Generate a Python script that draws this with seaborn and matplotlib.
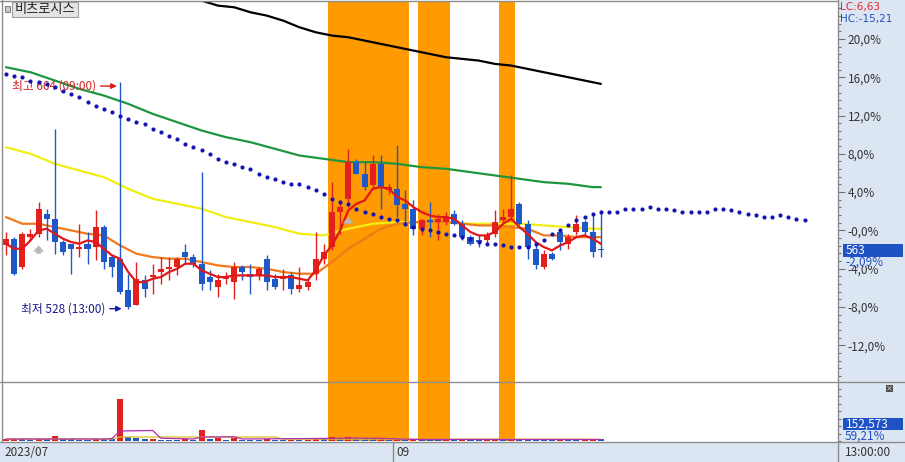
import numpy as np
import pandas as pd
import seaborn as sns
import matplotlib.pyplot as plt
from matplotlib.patches import Rectangle
from matplotlib.lines import Line2D
from matplotlib.ticker import MultipleLocator

# 기준가 (previous close) - the right axis shows % change from it
BASE_PRICE = 575

# daily candles (price, KRW)
opens = [566, 570, 553, 571, 573, 585, 582, 568, 567, 564, 567, 565, 577, 559, 558, 539, 530, 545, 547, 550,
         552, 553, 562, 559, 555, 547, 541, 546, 544, 553, 549, 548, 558, 546, 546, 548, 540, 541, 549, 558,
         565, 586, 594, 616, 609, 602, 615, 599, 600, 591, 588, 576, 581, 580, 580, 585, 579, 571, 569, 569,
         573, 581, 583, 591, 579, 564, 553, 561, 574, 567, 574, 580, 574, 563]
highs = [574, 571, 574, 576, 592, 588, 636, 569, 567, 579, 574, 587, 578, 561, 664, 549, 556, 548, 555, 559,
         559, 559, 567, 561, 610, 551, 549, 550, 556, 554, 555, 553, 560, 549, 552, 550, 553, 546, 574, 567,
         604, 593, 624, 618, 616, 620, 620, 603, 626, 599, 593, 582, 592, 585, 586, 587, 581, 572, 572, 574,
         587, 588, 608, 592, 581, 567, 563, 562, 576, 573, 584, 581, 585, 587]
lows = [560, 548, 552, 569, 571, 569, 561, 560, 549, 559, 555, 557, 552, 547, 537, 528, 530, 535, 537, 543,
        545, 548, 555, 553, 539, 539, 535, 543, 534, 545, 537, 545, 539, 540, 539, 537, 538, 539, 545, 555,
        563, 573, 589, 609, 599, 600, 588, 597, 583, 578, 572, 572, 571, 569, 578, 578, 569, 566, 565, 566,
        571, 579, 581, 578, 558, 552, 552, 557, 563, 564, 572, 572, 559, 559]
closes = [570, 549, 573, 573, 588, 582, 568, 562, 564, 565, 564, 577, 556, 553, 538, 529, 546, 540, 548, 552,
          553, 558, 559, 555, 543, 544, 545, 547, 553, 550, 547, 552, 544, 541, 547, 540, 542, 544, 558, 562,
          586, 589, 616, 609, 601, 615, 601, 601, 590, 588, 576, 581, 580, 582, 583, 579, 571, 567, 568, 572,
          580, 583, 588, 579, 565, 554, 561, 558, 568, 571, 579, 574, 562, 563]
# volume, thousands of shares
volumes = [200, 250, 220, 150, 250, 180, 500, 200, 180, 150, 150, 250, 250, 200, 4200, 450, 300, 200, 250, 150,
           150, 150, 180, 150, 1100, 250, 300, 150, 300, 150, 150, 120, 200, 150, 120, 150, 120, 150, 250, 200,
           450, 250, 400, 250, 200, 180, 200, 120, 200, 150, 180, 120, 120, 100, 120, 120, 150, 100, 80, 100,
           150, 120, 200, 180, 150, 150, 120, 100, 150, 120, 120, 150, 200, 153]

# moving averages (candle index, price)
ma5 = [567, 564, 564, 569, 575, 576, 573, 570, 568, 567, 569, 568, 564, 560, 558, 550, 544, 544, 546, 547,
       550, 552, 555, 555, 551, 549, 547, 547, 548, 548, 548, 548, 548, 547, 547, 547, 546, 545, 551, 560,
       566, 575, 587, 591, 593, 600, 601, 600, 595, 593, 589, 586, 584, 583, 583, 582, 578, 574, 572, 572,
       574, 579, 582, 577, 573, 568, 565, 563, 566, 568, 571, 572, 570, 567]
ma20_idx = [0, 2, 4, 6, 8, 10, 12, 14, 16, 18, 20, 22, 24, 26, 28, 30, 32, 34, 36, 38, 40, 42, 44, 46, 48,
            50, 52, 54, 56, 58, 60, 62, 64, 66, 68, 70, 72, 73]
ma20 = [583, 579, 579, 577, 575, 573, 572, 566, 561, 559, 558, 558, 556, 554, 553, 553, 552, 550, 549, 549,
        556, 564, 570, 576, 579, 580, 580, 580, 579, 578, 578, 577, 576, 572, 572, 571, 571, 571]
ma60_idx = [0, 3, 6, 9, 12, 15, 18, 21, 24, 27, 30, 33, 36, 39, 42, 45, 48, 51, 54, 57, 60, 63, 66, 69, 72, 73]
ma60 = [625, 621, 615, 611, 607, 600, 594, 591, 588, 583, 580, 577, 573, 572, 576, 579, 580, 580, 580, 579,
        579, 579, 578, 577, 576, 576]
ma120_idx = ma60_idx
ma120 = [673, 670, 665, 660, 656, 651, 645, 640, 635, 631, 628, 624, 620, 618, 616, 616, 615, 613, 612, 610,
         608, 606, 604, 603, 601, 601]
ma240_idx = [23, 24, 26, 28, 30, 32, 34, 36, 38, 40, 42, 44, 46, 48, 50, 52, 54, 56, 58, 60, 62, 64, 66, 68,
             70, 72, 73]
ma240 = [715, 713, 710, 709, 706, 704, 701, 697, 694, 692, 691, 689, 687, 685, 683, 681, 679, 678, 677, 675,
         674, 672, 670, 668, 666, 664, 663]
# leading span, runs 25 candles past the last one
span = [669, 668, 667, 665, 664, 663, 661, 659, 657, 655, 652, 650, 648, 646, 644, 642, 640, 639, 636, 634,
        632, 630, 627, 625, 623, 621, 618, 616, 615, 613, 612, 609, 607, 606, 604, 603, 603, 601, 599, 597,
        594, 592, 591, 588, 586, 585, 583, 582, 581, 579, 577, 576, 575, 574, 573, 572, 571, 570, 568, 567,
        567, 566, 565, 565, 565, 567, 569, 573, 575, 578, 581, 583, 585, 586, 586, 586, 588, 588, 588, 589,
        588, 588, 587, 586, 586, 586, 586, 588, 588, 587, 586, 585, 584, 583, 583, 584, 583, 582, 581]
# volume averages
vma5_idx = [0, 12, 13, 14, 18, 19, 23, 24, 28, 29, 40, 42, 46, 50, 73]
vma5 = [200, 200, 250, 1000, 1050, 280, 200, 400, 420, 200, 260, 300, 260, 160, 150]
vma20_idx = [0, 13, 14, 33, 34, 73]
vma20 = [200, 200, 400, 400, 190, 170]

# highlighted candle ranges
bands = [(40, 49), (51, 54), (61, 62)]
# buy-signal arrows (candle, from, to)
signals = [(4, 561, 566), (42, 579, 583)]

pct_ticks = [20, 16, 12, 8, 4, 0, -4, -8, -12]
pct_labels = ['20,0%', '16,0%', '12,0%', '8,0%', '4,0%', '-0,0%', '-4,0%', '-8,0%', '-12,0%']

RED = '#e3201b'
BLUE = '#1f58c8'
BAND = '#ff9a00'
PANEL = '#dce6f2'
EDGE = '#8c8c8c'


def pct(p):
    return (np.asarray(p, dtype=float) / BASE_PRICE - 1) * 100


sns.set_style('white')
plt.rcParams['font.family'] = ['Noto Sans CJK KR', 'DejaVu Sans']

W, H = 905, 462
fig = plt.figure(figsize=(W / 100, H / 100), dpi=100)


def frect(x0, y0, x1, y1):
    return [x0 / W, 1 - y1 / H, (x1 - x0) / W, (y1 - y0) / H]


def ftext(x, y, s, **kw):
    fig.text(x / W, 1 - y / H, s, va='center', ha='left', **kw)


# light blue side / bottom strips
fig.add_artist(Rectangle((838 / W, 20 / H), 67 / W, 442 / H, color=PANEL, lw=0, zorder=0))
fig.add_artist(Rectangle((0, 0), 1, 20 / H, color=PANEL, lw=0, zorder=0))

ax = fig.add_axes(frect(3, 1, 838, 382))
axv = fig.add_axes(frect(3, 382, 838, 441))
xlim = (-0.37, 102.1)

idx = np.arange(len(opens))
o, h, l, c = pct(opens), pct(highs), pct(lows), pct(closes)
colors = np.where(c > o, RED, BLUE)
# volume bars: red when volume rose vs the previous candle
vol = np.array(volumes)
vcolors = np.where(np.r_[True, vol[1:] > vol[:-1]], RED, BLUE)

for a in (ax, axv):
    for b0, b1 in bands:
        a.axvspan(b0 - 0.5, b1 + 0.5, color=BAND, lw=0, zorder=0)
    a.set_xlim(*xlim)
    a.set_xticks([])
    for s in a.spines.values():
        s.set_visible(False)

# moving averages
sns.lineplot(x=ma240_idx, y=pct(ma240), ax=ax, color='black', lw=1.6, zorder=2)
sns.lineplot(x=ma120_idx, y=pct(ma120), ax=ax, color='#1e9640', lw=1.6, zorder=2)
sns.lineplot(x=ma60_idx, y=pct(ma60), ax=ax, color='#f2ee12', lw=1.6, zorder=2)
sns.lineplot(x=ma20_idx, y=pct(ma20), ax=ax, color='#f07a1c', lw=1.6, zorder=2)

# candles
ax.vlines(idx, l, h, colors=colors, lw=1, zorder=3)
body_lo = np.minimum(o, c)
body_h = np.maximum(np.abs(c - o), 0.12)
ax.bar(idx, body_h, bottom=body_lo, width=0.74, color=colors, lw=0, zorder=4)

sns.lineplot(x=idx, y=pct(ma5), ax=ax, color='#e01818', lw=1.6, zorder=5)
sns.scatterplot(x=np.arange(len(span)), y=pct(span), ax=ax, color='#1414b4', s=9,
                linewidth=0, zorder=6)

for i, p0, p1 in signals:
    ax.annotate('', xy=(i, pct(p1)), xytext=(i, pct(p0)),
                arrowprops=dict(arrowstyle='simple,head_length=0.5,head_width=0.9,tail_width=0.4',
                                color='#b8b8b8', lw=0, shrinkA=0, shrinkB=0, mutation_scale=9),
                zorder=5)

# high / low markers
hi_i = int(np.argmax(highs))
lo_i = int(np.argmin(lows))
ax.annotate(f'최고 {highs[hi_i]} (09:00)', xy=(hi_i - 0.4, pct(highs[hi_i]) - 0.4), xytext=(-15, 0),
            textcoords='offset points', ha='right', va='center', fontsize=8.5, color='#d42020',
            arrowprops=dict(arrowstyle='-|>', color='#e01818', lw=1, shrinkA=1, shrinkB=0,
                            mutation_scale=8))
ax.annotate(f'최저 {lows[lo_i]} (13:00)', xy=(lo_i - 0.8, pct(lows[lo_i])), xytext=(-12, 0),
            textcoords='offset points', ha='right', va='center', fontsize=8.5, color='#1a1a8c',
            arrowprops=dict(arrowstyle='-|>', color='#1a1aa0', lw=1, shrinkA=1, shrinkB=0,
                            mutation_scale=8))

ax.set_ylim(pct(BASE_PRICE * (1 - 0.1583)), 23.96)
ax.yaxis.tick_right()
ax.set_yticks(pct_ticks)
ax.set_yticklabels(pct_labels)
ax.yaxis.set_minor_locator(MultipleLocator(0.8))
ax.tick_params(axis='y', which='major', length=5, width=0.8, color='#707070', pad=2,
               labelsize=8.5, labelcolor='#333333')
ax.tick_params(axis='y', which='minor', length=2.5, width=0.8, color='#707070')
ax.set_xlabel('')
ax.set_ylabel('')

# volume panel
axv.bar(idx, volumes, width=0.74, color=vcolors, lw=0, zorder=3)
sns.lineplot(x=vma20_idx, y=vma20, ax=axv, color='#d8c020', lw=0.9, zorder=4)
sns.lineplot(x=vma5_idx, y=vma5, ax=axv, color='#b02cb0', lw=0.9, zorder=4)
axv.set_ylim(0, 5900)
axv.yaxis.tick_right()
axv.set_yticks(np.arange(0, 5900, 750))
axv.set_yticklabels([])
axv.tick_params(axis='y', length=2.5, width=0.8, color='#707070')
axv.set_xlabel('')
axv.set_ylabel('')

# frame lines
for x0, y0, x1, y1 in [(0, 382, 905, 382), (0, 442, 905, 442), (838, 0, 838, 462),
                       (1.5, 0, 1.5, 442), (0, 0.5, 838, 0.5), (393, 442, 393, 462)]:
    fig.add_artist(Line2D([x0 / W, x1 / W], [1 - y0 / H, 1 - y1 / H], color=EDGE, lw=1, zorder=5))

# title box
fig.add_artist(Rectangle((5 / W, 1 - 12 / H), 5 / W, 6 / H, facecolor='#c8c8c8',
                         edgecolor='#707070', lw=0.6, zorder=6))
fig.add_artist(Rectangle((12 / W, 1 - 17 / H), 66 / W, 15 / H, facecolor='#e4e4e4',
                         edgecolor='#a0a0a0', lw=0.8, zorder=6))
fig.text(45 / W, 1 - 9 / H, '비츠로시스', ha='center', va='center', fontsize=9.5, color='#222222',
         zorder=7)

# right strip labels
num = dict(family=['DejaVu Sans'])
ftext(840, 7, 'LC:6,63', fontsize=7.5, color='#e0282e', **num)
ftext(840, 19, 'HC:-15,21', fontsize=7.5, color='#2050c0', **num)
last = closes[-1]
fig.add_artist(Rectangle((843 / W, 1 - 257 / H), 60 / W, 13 / H, color='#1f52c4', lw=0, zorder=6))
ftext(846, 250, f'{last}', fontsize=8.5, color='white', zorder=7)
fig.add_artist(Rectangle((843 / W, 1 - 266 / H), 60 / W, 9 / H, color=PANEL, lw=0, zorder=6))
chg = (last / BASE_PRICE - 1) * 100
ftext(845, 262, f'{chg:.2f}%'.replace('.', ','), fontsize=8.5, color='#2050c0', zorder=7)

fig.add_artist(Rectangle((843 / W, 1 - 430 / H), 60 / W, 12 / H, color='#1f52c4', lw=0, zorder=6))
ftext(846, 424, '152,573', fontsize=8.5, color='white', zorder=7)
ftext(845, 436, '59,21%', fontsize=8.5, color='#2050c0', zorder=7)
fig.add_artist(Rectangle((886 / W, 1 - 392 / H), 7 / W, 7 / H, color='#505050', lw=0, zorder=6))
fig.text(889.5 / W, 1 - 388.5 / H, '×', ha='center', va='center', fontsize=5, color='white', zorder=7)

# time axis
ftext(4, 452, '2023/07', fontsize=8.5, color='#333333')
ftext(396, 452, '09', fontsize=8.5, color='#333333')
ftext(845, 452, '13:00:00', fontsize=8.5, color='#333333')

fig.savefig('out.png', dpi=100)
